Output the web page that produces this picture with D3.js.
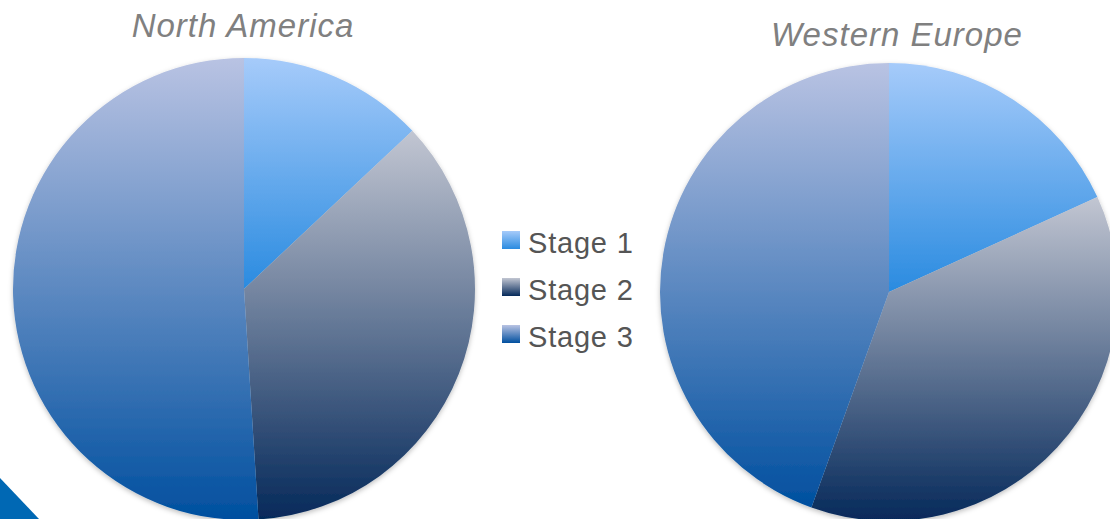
<!DOCTYPE html>
<meta charset="utf-8">
<head>
    <title>Stages by region</title>
</head>
<style>
    body { margin: 0; background: #fff; }
    svg { display: block; }
</style>
<body>
<svg></svg>
<script src="https://cdnjs.cloudflare.com/ajax/libs/d3/7.8.5/d3.min.js"></script>
<script>
    // Data
    const stages = ["Stage 1", "Stage 2", "Stage 3"];
    const northAmerica = [13, 36, 51];
    const westernEurope = [18.2, 37.3, 44.5];
    const regions = ["North America", "Western Europe"];

    // Configuration
    const width = 1110;
    const height = 519;
    const gradStops = {
        "Stage 1": ["#a6cbfa", "#2a8be0"],
        "Stage 2": ["#c2c6d2", "#05295a"],
        "Stage 3": ["#b9c3e3", "#004f9f"]
    };

    const svg = d3.select("svg").attr("width", width).attr("height", height);
    const defs = svg.append("defs");

    // one vertical gradient per stage, stretched over each slice's box
    stages.forEach((s, i) => {
        const g = defs.append("linearGradient")
            .attr("id", "grad" + i)
            .attr("x1", 0).attr("y1", 0).attr("x2", 0).attr("y2", 1);
        g.append("stop").attr("offset", "0%").attr("stop-color", gradStops[s][0]);
        g.append("stop").attr("offset", "100%").attr("stop-color", gradStops[s][1]);
    });

    const shadow = defs.append("filter").attr("id", "shadow")
        .attr("x", "-10%").attr("y", "-10%").attr("width", "120%").attr("height", "120%");
    shadow.append("feDropShadow")
        .attr("dx", 0).attr("dy", 2).attr("stdDeviation", 2.5)
        .attr("flood-color", "#000").attr("flood-opacity", 0.25);

    // corner decoration
    svg.append("path")
        .attr("d", "M0,478 L39,519 L0,519 Z")
        .attr("fill", "#0068b4");

    const pie = d3.pie().sort(null).value(d => d.value);

    const charts = [
        { name: regions[0], values: northAmerica, cx: 244, cy: 289, r: 231, tx: 243, ty: 37 },
        { name: regions[1], values: westernEurope, cx: 889, cy: 292, r: 229, tx: 897, ty: 46 }
    ];

    charts.forEach(c => {
        const arc = d3.arc().innerRadius(0).outerRadius(c.r);
        const data = stages.map((s, i) => ({ stage: s, i: i, value: c.values[i] }));

        const g = svg.append("g")
            .attr("transform", `translate(${c.cx},${c.cy})`)
            .attr("filter", "url(#shadow)");

        g.selectAll("path")
            .data(pie(data))
            .enter()
            .append("path")
            .attr("d", arc)
            .attr("fill", d => `url(#grad${d.data.i})`);

        svg.append("text")
            .attr("x", c.tx)
            .attr("y", c.ty)
            .attr("text-anchor", "middle")
            .attr("font-family", "'Liberation Sans', Arial, sans-serif")
            .attr("font-style", "italic")
            .attr("font-size", 33)
            .attr("letter-spacing", 1)
            .attr("fill", "#808080")
            .text(c.name);
    });

    // Legend
    const legend = svg.append("g").attr("transform", "translate(502,231)");
    const items = legend.selectAll("g")
        .data(stages)
        .enter()
        .append("g")
        .attr("transform", (d, i) => `translate(0,${i * 47})`);

    items.append("rect")
        .attr("width", 18)
        .attr("height", 18)
        .attr("fill", (d, i) => `url(#grad${i})`);

    items.append("text")
        .attr("x", 26)
        .attr("y", 22)
        .attr("font-family", "'Liberation Sans', Arial, sans-serif")
        .attr("font-size", 29)
        .attr("letter-spacing", 0.8)
        .attr("fill", "#555")
        .text(d => d);
</script>
</body>
</html>
